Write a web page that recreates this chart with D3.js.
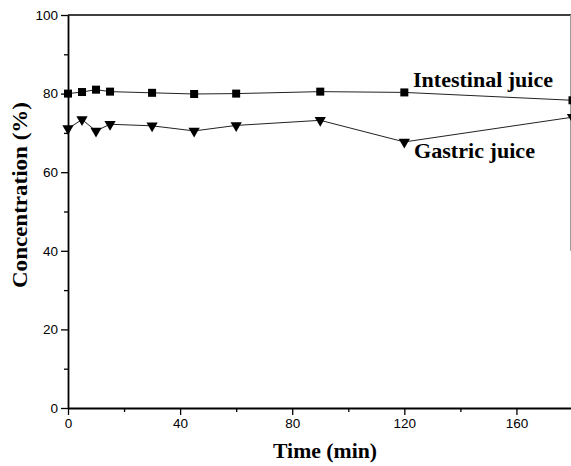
<!DOCTYPE html>
<html>
<head>
<meta charset="utf-8">
<script src="https://cdn.jsdelivr.net/npm/d3@7"></script>
<style>
  body { margin: 0; background: #fff; }
  svg { display: block; }
</style>
</head>
<body>
<svg id="chart" width="571" height="466"></svg>
<script>
// time points (min)
const times = [0, 5, 10, 15, 30, 45, 60, 90, 120, 180];
// concentration (%)
const intestinal = [80.0, 80.4, 81.0, 80.5, 80.2, 79.9, 80.0, 80.5, 80.3, 78.3];
const gastric = [71.1, 73.4, 70.5, 72.2, 71.8, 70.5, 71.9, 73.2, 67.7, 74.0];
const xTicks = [0, 40, 80, 120, 160];
const yTicks = [0, 20, 40, 60, 80, 100];

const svg = d3.select("#chart");
const margin = { top: 15, left: 68, bottom: 58 };
const height = 466;
const serif = "Liberation Serif, Times New Roman, serif";
const sans = "Liberation Sans, Arial, sans-serif";

const x = d3.scaleLinear().domain([0, 180]).range([margin.left, 572.5]);
const y = d3.scaleLinear().domain([0, 100]).range([height - margin.bottom, margin.top]);

// frame (top line, faint right edge)
svg.append("line")
  .attr("x1", x(0)).attr("x2", x(180))
  .attr("y1", y(100)).attr("y2", y(100))
  .attr("stroke", "#000").attr("stroke-width", 1.6);
svg.append("line")
  .attr("x1", 570.5).attr("x2", 570.5)
  .attr("y1", y(100)).attr("y2", y(40))
  .attr("stroke", "#999").attr("stroke-width", 1);

// minor ticks
svg.append("g")
  .attr("transform", `translate(0,${y(0)})`)
  .call(d3.axisBottom(x).tickValues(d3.range(20, 180, 40)).tickSize(4).tickFormat(""))
  .call(g => g.select(".domain").remove())
  .selectAll("line").attr("stroke-width", 1.3);
svg.append("g")
  .attr("transform", `translate(${x(0)},0)`)
  .call(d3.axisLeft(y).tickValues(d3.range(10, 100, 20)).tickSize(4).tickFormat(""))
  .call(g => g.select(".domain").remove())
  .selectAll("line").attr("stroke-width", 1.3);

// x axis
const xAxis = svg.append("g")
  .attr("transform", `translate(0,${y(0)})`)
  .call(d3.axisBottom(x).tickValues(xTicks).tickSize(7).tickSizeOuter(0).tickPadding(3));
xAxis.select(".domain").attr("stroke-width", 1.8);
xAxis.selectAll(".tick line").attr("stroke-width", 1.3);
xAxis.selectAll("text")
  .style("font-family", sans)
  .style("font-size", "13.5px")
  .attr("fill", "#000");

// y axis
const yAxis = svg.append("g")
  .attr("transform", `translate(${x(0)},0)`)
  .call(d3.axisLeft(y).tickValues(yTicks).tickSize(7).tickSizeOuter(0).tickPadding(3));
yAxis.select(".domain").attr("stroke-width", 1.8);
yAxis.selectAll(".tick line").attr("stroke-width", 1.3);
yAxis.selectAll("text")
  .style("font-family", sans)
  .style("font-size", "13.5px")
  .attr("fill", "#000");

// axis titles
svg.append("text")
  .attr("x", 325).attr("y", 458)
  .attr("text-anchor", "middle")
  .attr("textLength", 104).attr("lengthAdjust", "spacingAndGlyphs")
  .style("font-family", serif)
  .style("font-weight", "bold")
  .style("font-size", "20px")
  .text("Time (min)");
svg.append("text")
  .attr("transform", `translate(27,195) rotate(-90)`)
  .attr("text-anchor", "middle")
  .attr("textLength", 186).attr("lengthAdjust", "spacingAndGlyphs")
  .style("font-family", serif)
  .style("font-weight", "bold")
  .style("font-size", "21px")
  .text("Concentration (%)");

// series
const line = d3.line().x(d => x(d[0])).y(d => y(d[1]));
const intData = times.map((t, i) => [t, intestinal[i]]);
const gasData = times.map((t, i) => [t, gastric[i]]);

svg.append("path").datum(intData)
  .attr("d", line).attr("fill", "none").attr("stroke", "#222").attr("stroke-width", 1);
svg.append("path").datum(gasData)
  .attr("d", line).attr("fill", "none").attr("stroke", "#222").attr("stroke-width", 1);

svg.selectAll("rect.sq").data(intData).join("rect")
  .attr("class", "sq")
  .attr("x", d => x(d[0]) - 4).attr("y", d => y(d[1]) - 4)
  .attr("width", 8).attr("height", 8)
  .attr("fill", "#000");

const tri = d3.symbol().type(d3.symbolTriangle).size(55);
svg.selectAll("path.tri").data(gasData).join("path")
  .attr("class", "tri")
  .attr("d", tri)
  .attr("transform", d => `translate(${x(d[0])},${y(d[1])}) rotate(180)`)
  .attr("fill", "#000");

// labels
svg.append("text")
  .attr("x", 413).attr("y", 87)
  .attr("textLength", 140).attr("lengthAdjust", "spacingAndGlyphs")
  .style("font-family", serif)
  .style("font-weight", "bold")
  .style("font-size", "22px")
  .text("Intestinal juice");
svg.append("text")
  .attr("x", 414).attr("y", 158)
  .attr("textLength", 121).attr("lengthAdjust", "spacingAndGlyphs")
  .style("font-family", serif)
  .style("font-weight", "bold")
  .style("font-size", "22px")
  .text("Gastric juice");
</script>
</body>
</html>
